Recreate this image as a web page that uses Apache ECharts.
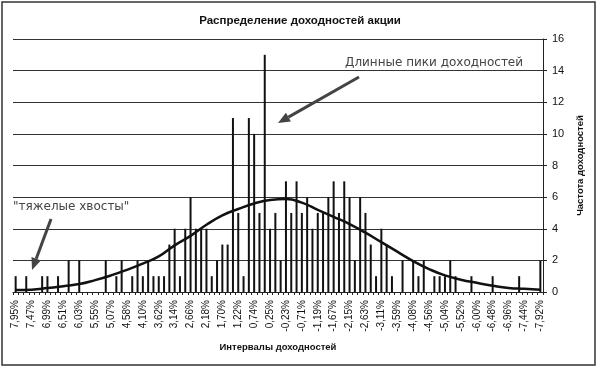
<!DOCTYPE html>
<html>
<head>
<meta charset="utf-8">
<script src="https://cdn.jsdelivr.net/npm/echarts@6/dist/echarts.min.js"></script>
<style>html,body{margin:0;padding:0;background:#fff}#c{width:600px;height:368px}</style>
</head>
<body>
<div id="c"></div>
<script>
// Return-interval categories (every third one is labelled on the axis)
var categories = [
  '7,95%','7,79%','7,63%','7,47%','7,31%','7,15%','6,99%','6,83%','6,67%','6,51%',
  '6,35%','6,19%','6,03%','5,87%','5,71%','5,55%','5,39%','5,23%','5,07%','4,90%',
  '4,74%','4,58%','4,42%','4,26%','4,10%','3,94%','3,78%','3,62%','3,46%','3,30%',
  '3,14%','2,98%','2,82%','2,66%','2,50%','2,34%','2,18%','2,02%','1,86%','1,70%',
  '1,54%','1,38%','1,22%','1,06%','0,90%','0,74%','0,58%','0,41%','0,25%','0,09%',
  '-0,07%','-0,23%','-0,39%','-0,55%','-0,71%','-0,87%','-1,03%','-1,19%','-1,35%','-1,51%',
  '-1,67%','-1,83%','-1,99%','-2,15%','-2,31%','-2,47%','-2,63%','-2,79%','-2,95%','-3,11%',
  '-3,27%','-3,43%','-3,59%','-3,75%','-3,92%','-4,08%','-4,24%','-4,40%','-4,56%','-4,72%',
  '-4,88%','-5,04%','-5,20%','-5,36%','-5,52%','-5,68%','-5,84%','-6,00%','-6,16%','-6,32%',
  '-6,48%','-6,64%','-6,80%','-6,96%','-7,12%','-7,28%','-7,44%','-7,60%','-7,76%','-7,92%'
];
// Frequency of returns per interval
var frequency = [
  1,0,1,0,0,1,1,0,1,0,
  2,0,2,0,0,0,0,2,0,1,
  2,0,1,2,1,2,1,1,1,3,
  4,1,4,6,4,4,4,1,2,3,
  3,11,5,1,11,10,5,15,4,5,
  2,7,5,7,5,6,4,5,5,6,
  7,5,7,6,2,6,5,3,1,4,
  3,1,0,2,0,2,1,2,0,1,
  1,1,2,1,0,0,1,0,0,0,
  1,0,0,0,0,1,0,0,0,2
];
// Fitted normal curve, read at every third interval (null = not read)
var normalCurve = [
  0.12,null,null,0.15,null,null,0.25,null,null,0.37,
  null,null,0.5,null,null,0.75,null,null,1.05,null,
  null,1.4,null,null,1.8,null,null,2.25,null,null,
  2.95,null,null,3.55,null,null,4.25,null,null,4.85,
  null,null,5.25,null,null,5.6,null,null,5.82,null,
  null,5.88,null,null,5.65,null,null,5.2,null,null,
  4.75,null,null,4.3,null,null,3.75,null,null,3.15,
  null,null,2.55,null,null,1.95,null,null,1.45,null,
  null,1.05,null,null,0.78,null,null,0.58,null,null,
  0.4,null,null,0.26,null,null,0.2,null,null,0.15
];
var yTicks = {min: 0, max: 16, interval: 2};

var chart = echarts.init(document.getElementById('c'), null, {renderer: 'canvas'});
var ff = 'Liberation Sans, Arial, sans-serif';
chart.setOption({
  animation: false,
  backgroundColor: '#fff',
  title: {
    text: 'Распределение доходностей акции',
    left: 'center', top: 10,
    textStyle: {fontFamily: ff, fontSize: 11.5, fontWeight: 'bold', color: '#111'}
  },
  grid: {left: 13, right: 57, top: 39, bottom: 76},
  xAxis: {
    type: 'category',
    data: categories,
    boundaryGap: true,
    name: 'Интервалы доходностей',
    nameLocation: 'middle',
    nameGap: 50,
    nameTextStyle: {fontFamily: ff, fontSize: 9.5, fontWeight: 'bold', color: '#111'},
    axisLine: {lineStyle: {color: '#222', width: 1}},
    axisTick: {show: true, interval: 0, length: 3, lineStyle: {color: '#222'}},
    axisLabel: {interval: 2, rotate: 90, fontFamily: ff, fontSize: 10, color: '#111', margin: 8},
    splitLine: {show: false}
  },
  yAxis: {
    type: 'value',
    position: 'right',
    min: yTicks.min, max: yTicks.max, interval: yTicks.interval,
    name: 'Частота доходностей',
    nameLocation: 'middle',
    nameRotate: 90,
    nameGap: 27,
    nameTextStyle: {fontFamily: ff, fontSize: 9.5, fontWeight: 'bold', color: '#111'},
    axisLine: {show: true, lineStyle: {color: '#222', width: 1}},
    axisTick: {show: true, length: 4, lineStyle: {color: '#222'}},
    axisLabel: {fontFamily: ff, fontSize: 11, color: '#111', margin: 9},
    splitLine: {show: true, lineStyle: {color: '#333', width: 1}}
  },
  series: [
    {
      type: 'bar',
      data: frequency,
      barWidth: 2,
      itemStyle: {color: '#111'},
      z: 2
    },
    {
      type: 'line',
      data: normalCurve,
      connectNulls: true,
      smooth: true,
      showSymbol: false,
      symbol: 'none',
      lineStyle: {color: '#111', width: 2.5},
      z: 3
    }
  ],
  graphic: [
    {type: 'rect', shape: {x: 2, y: 2, width: 593, height: 363}, style: {fill: null, stroke: '#333', lineWidth: 1.5}, z: 10},
    {type: 'text', x: 345, y: 57, style: {text: 'Длинные пики доходностей', fontFamily: 'DejaVu Sans, sans-serif', fontSize: 12, fill: '#444'}, z: 10},
    {type: 'line', shape: {x1: 359, y1: 77, x2: 288.4, y2: 117.1}, style: {stroke: '#444', lineWidth: 3}, z: 10},
    {type: 'polygon', shape: {points: [[278, 123], [285.9, 112.7], [290.9, 121.4]]}, style: {fill: '#444'}, z: 10},
    {type: 'text', x: 13, y: 201, style: {text: '"тяжелые хвосты"', fontFamily: 'DejaVu Sans, sans-serif', fontSize: 12, fill: '#444'}, z: 10},
    {type: 'line', shape: {x1: 51, y1: 219, x2: 36.2, y2: 258.8}, style: {stroke: '#444', lineWidth: 3}, z: 10},
    {type: 'polygon', shape: {points: [[32, 270], [31.5, 257], [40.9, 260.5]]}, style: {fill: '#444'}, z: 10}
  ]
});
</script>
</body>
</html>
